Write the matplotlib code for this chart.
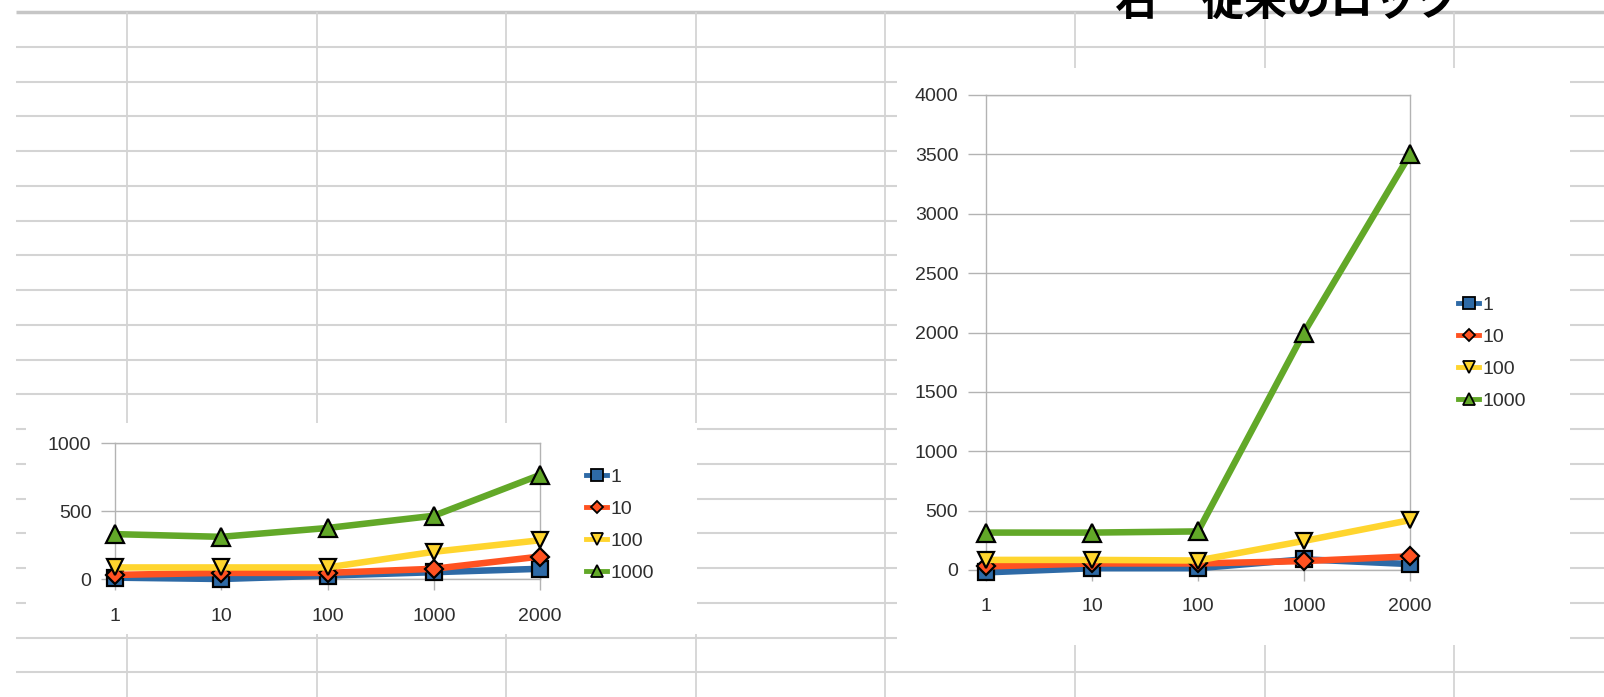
import numpy as np
import matplotlib.pyplot as plt
from matplotlib.lines import Line2D
from matplotlib.patches import Rectangle

plt.rcParams['font.family'] = ['Liberation Sans', 'DejaVu Sans']

W, H = 1604, 697

# x categories (shared by both charts) and legend names
sizes = ['1', '10', '100', '1000', '2000']
series_names = ['1', '10', '100', '1000']

# left chart
left_1 = [10, 0, 25, 50, 75]
left_10 = [30, 45, 45, 75, 165]
left_100 = [85, 85, 85, 200, 285]
left_1000 = [330, 310, 375, 465, 765]

# right chart
right_1 = [-20, 15, 15, 90, 50]
right_10 = [30, 55, 55, 75, 115]
right_100 = [85, 85, 80, 245, 420]
right_1000 = [315, 315, 325, 2000, 3500]

title = '右　従来のロック'

colors = ['#2e6aa6', '#ff5221', '#ffd52e', '#62a828']
markers = ['s', 'D', 'v', '^']
msizes = [12, 9, 12, 13]
tick_color = '#2e2e2e'
frame_color = '#b3b3b3'

fig = plt.figure(figsize=(W / 100, H / 100), dpi=100)

# spreadsheet background
bg = fig.add_axes([0, 0, 1, 1])
bg.set_xlim(0, W)
bg.set_ylim(H, 0)
bg.axis('off')
row_y = 12 + 34.75 * np.arange(20)
col_x = 127 + 189.6 * np.arange(8)
bg.hlines(row_y[1:], 16, W, color='#d4d4d4', lw=1.5, zorder=1)
bg.hlines(row_y[0], 16, W, color='#c6c6c6', lw=2.5, zorder=1)
bg.vlines(col_x, 12, H, color='#d4d4d4', lw=1.3, zorder=1)
bg.add_patch(Rectangle((26, 423), 671, 211, facecolor='white', edgecolor='none', zorder=3))
bg.add_patch(Rectangle((897, 68), 673, 577, facecolor='white', edgecolor='none', zorder=3))


def px_axes(left, right, top, bottom):
    return fig.add_axes([left / W, 1 - bottom / H, (right - left) / W, (bottom - top) / H])


def draw_chart(ax, data, ymax, ystep, ytick_len, xlabel_pad):
    x = np.arange(len(sizes))
    for vals, c, m, ms in zip(data, colors, markers, msizes):
        ax.plot(x, vals, color=c, lw=4.7, marker=m, ms=ms, mfc=c, mec='black',
                mew=1.6, clip_on=False, zorder=3, solid_capstyle='butt')
    ax.set_facecolor('none')
    ax.set_xlim(0, len(sizes) - 1)
    ax.set_ylim(0, ymax)
    ax.set_xticks(x)
    ax.set_xticklabels(sizes)
    ax.set_yticks(np.arange(0, ymax + 1, ystep))
    ax.yaxis.grid(True, color=frame_color, lw=1)
    ax.set_axisbelow(True)
    for s in ax.spines.values():
        s.set_color(frame_color)
        s.set_linewidth(1)
    ax.tick_params(axis='y', length=ytick_len, width=1, color=frame_color,
                   labelcolor=tick_color, labelsize=14, pad=7)
    ax.tick_params(axis='x', length=8, width=1, color=frame_color,
                   labelcolor=tick_color, labelsize=14, pad=xlabel_pad)


def draw_legend(ax, left, top):
    handles = [Line2D([], [], color=c, lw=3.5, marker=m, ms=ms * 0.7, mfc=c,
                      mec='black', mew=1.3)
               for c, m, ms in zip(colors, markers, msizes)]
    ax.legend(handles, series_names, loc='upper left',
              bbox_to_anchor=(left / W, 1 - top / H), bbox_transform=fig.transFigure,
              frameon=False, fontsize=14, handlelength=1.1, handletextpad=0.15,
              labelspacing=0.75, borderpad=0, borderaxespad=0, labelcolor=tick_color)


ax_left = px_axes(115, 540, 443, 579)
draw_chart(ax_left, [left_1, left_10, left_100, left_1000], 1000, 500, 10, 13)
draw_legend(ax_left, 586, 468)

ax_right = px_axes(986, 1410, 95, 570)
draw_chart(ax_right, [right_1, right_10, right_100, right_1000], 4000, 500, 13, 12)
draw_legend(ax_right, 1458, 296)

fig.text(1115 / W, 1 - 15 / H, title, fontsize=31, fontweight='bold',
         family=['Noto Sans CJK JP', 'DejaVu Sans'], ha='left', va='baseline')

fig.savefig('out.png', dpi=100)
